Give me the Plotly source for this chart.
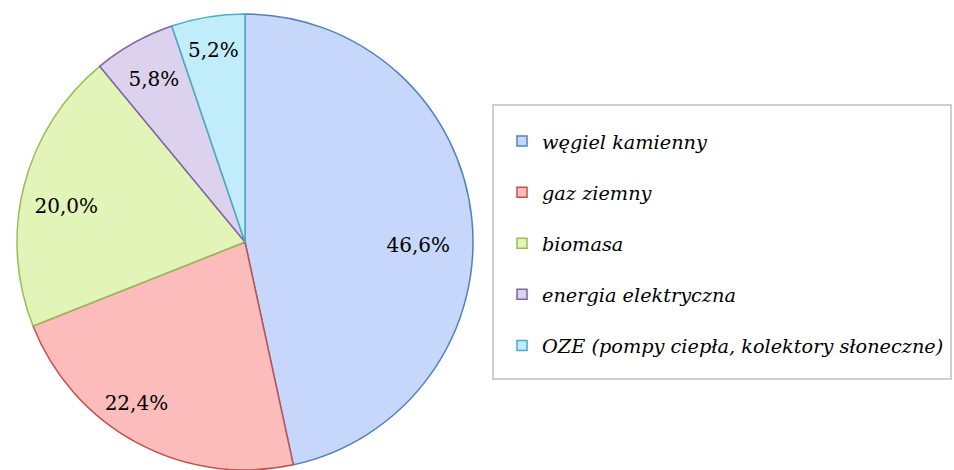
import plotly.graph_objects as go

categories = ["węgiel kamienny", "gaz ziemny", "biomasa", "energia elektryczna",
              "OZE (pompy ciepła, kolektory słoneczne)"]
values = [46.6, 22.4, 20.0, 5.8, 5.2]

fill_colors = ["#c6d7fb", "#fcbcbc", "#e3f4b8", "#ddd2ee", "#c0edf9"]
line_colors = ["#4f81bd", "#c0504d", "#9bbb59", "#8064a2", "#4bacc6"]

# label ring settings (hole size, rotation nudge, radius shrink) per percentage label
label_holes = [0.52, 0.70, 0.60, 0.55, 0.72]
label_rot = [7, 6, -3, 0, 0]
label_shrink = [0, 0, 0, 7, 2]

CX, CY, R = 245, 242, 228  # pie centre / radius in pixels


def domain(shrink=0):
    r = R - shrink
    return dict(x=[(CX - r) / 954, (CX + r) / 954],
                y=[(470 - CY - r) / 470, (470 - CY + r) / 470])


fig = go.Figure()
fig.add_trace(go.Pie(
    labels=categories, values=values, sort=False, direction="clockwise", rotation=0,
    marker=dict(colors=fill_colors, line=dict(color=line_colors, width=1.5)),
    textinfo="none", hoverinfo="skip", showlegend=False, domain=domain(),
))
# transparent rings used only to place the percentage labels
for k in range(len(values)):
    tt = ["%{value:.1f}%" if j == k else "" for j in range(len(values))]
    fig.add_trace(go.Pie(
        labels=categories, values=values, sort=False, direction="clockwise",
        rotation=label_rot[k], hole=label_holes[k],
        marker=dict(colors=["rgba(0,0,0,0)"] * 5, line=dict(width=0)),
        texttemplate=tt, textposition="inside", insidetextorientation="horizontal",
        textfont=dict(family="DejaVu Serif", size=20, color="#000000"),
        hoverinfo="skip", showlegend=False, domain=domain(label_shrink[k]),
    ))

for i, name in enumerate(categories):
    fig.add_trace(go.Scatter(
        x=[None], y=[None], mode="markers", name=name, legendgroup=f"g{i}",
        marker=dict(symbol="square", size=10, color=fill_colors[i],
                    line=dict(color=line_colors[i], width=1.5)),
    ))

fig.update_layout(
    width=954, height=470, margin=dict(l=0, r=0, t=0, b=0),
    paper_bgcolor="white", plot_bgcolor="white",
    separators=", ",
    xaxis=dict(visible=False), yaxis=dict(visible=False),
    legend=dict(
        x=502/954, y=1-122/470, xanchor="left", yanchor="top",
        borderwidth=0, bgcolor="rgba(0,0,0,0)",
        font=dict(family="DejaVu Serif", size=19.3, color="#000000", style="italic"),
        tracegroupgap=23, itemclick=False, itemdoubleclick=False,
    ),
    shapes=[dict(type="rect", xref="paper", yref="paper",
                 x0=493/954, x1=951/954, y0=1-379/470, y1=1-105/470,
                 line=dict(color="#bfbfbf", width=1.5), fillcolor="rgba(0,0,0,0)")],
    showlegend=True,
)

fig.write_html("out.html", config={"displayModeBar": False},
               post_script="document.body.style.margin='0';document.body.style.overflow='hidden';")
